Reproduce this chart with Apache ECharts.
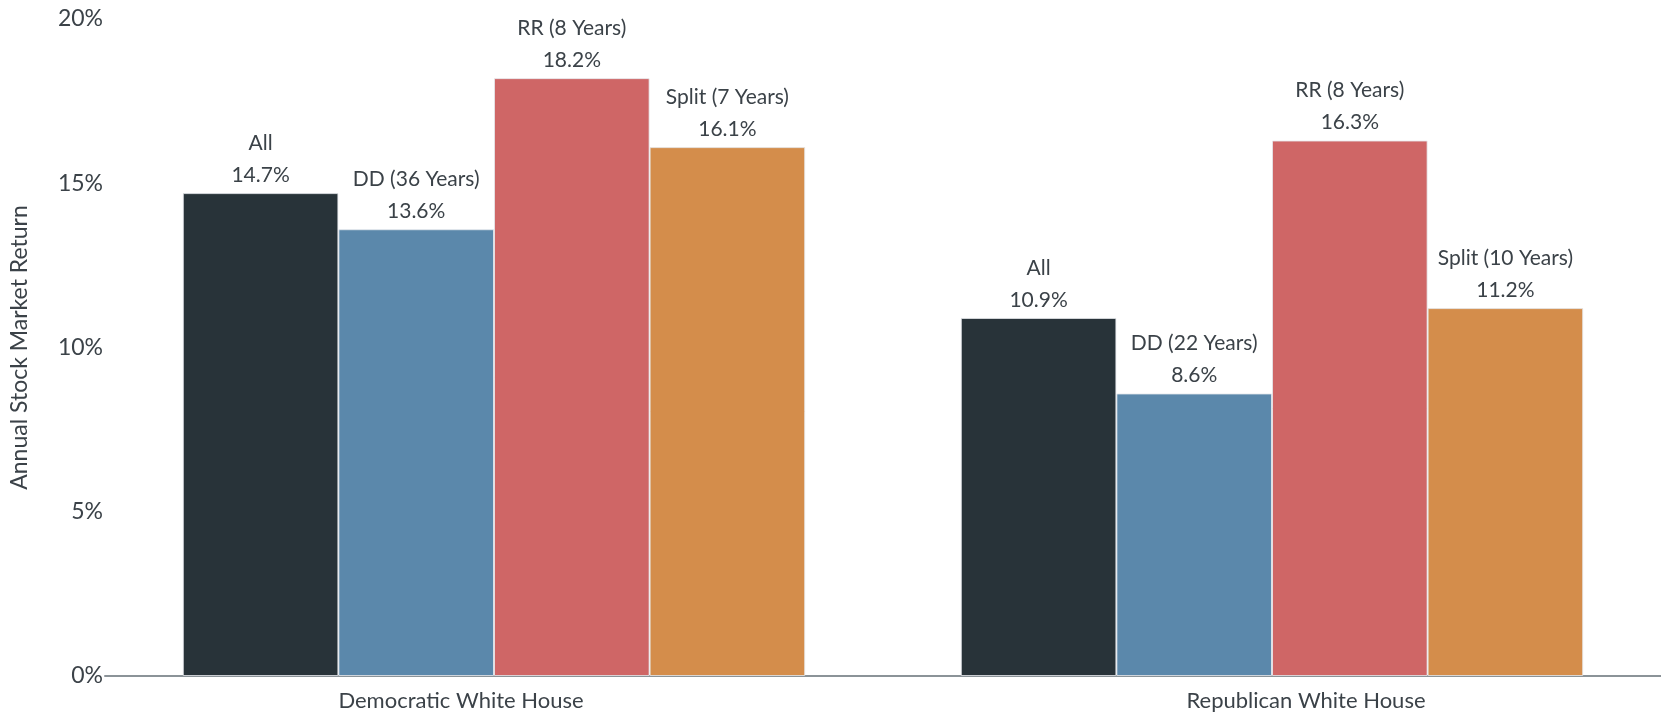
<!DOCTYPE html>
<html>
<head>
<meta charset="utf-8">
<script src="https://cdn.jsdelivr.net/npm/echarts@6/dist/echarts.min.js"></script>
<style>
  html, body { margin: 0; padding: 0; background: #fff; }
  #main { width: 1661px; height: 715px; }
</style>
</head>
<body>
<div id="main"></div>
<script>
// categories and tick labels
var houses = ['Democratic White House', 'Republican White House'];
var yTicks = [0, 5, 10, 15, 20];

// series values (%)
var allVals = [14.7, 10.9];
var ddVals = [13.6, 8.6];
var rrVals = [18.2, 16.3];
var splitVals = [16.1, 11.2];

// label text above each bar
var allNames = ['All', 'All'];
var ddNames = ['DD (36 Years)', 'DD (22 Years)'];
var rrNames = ['RR (8 Years)', 'RR (8 Years)'];
var splitNames = ['Split (7 Years)', 'Split (10 Years)'];

var font = 'Lato';
var textColor = '#3b4248';

function makeSeries(name, vals, names, color) {
  return {
    name: name,
    type: 'bar',
    data: vals,
    barWidth: '20%',
    barGap: '0%',
    itemStyle: {
      color: color,
      borderColor: 'rgba(230,233,236,0.8)',
      borderWidth: 1
    },
    label: {
      show: true,
      position: 'top',
      distance: 2,
      fontFamily: font,
      fontSize: 21,
      lineHeight: 32,
      color: textColor,
      formatter: function (p) {
        return names[p.dataIndex] + '\n' + p.value.toFixed(1) + '%';
      }
    }
  };
}

var chart = echarts.init(document.getElementById('main'));
var option = {
  animation: false,
  backgroundColor: '#fff',
  grid: { left: 105, right: 0, top: 19, bottom: 39 },
  xAxis: {
    type: 'category',
    data: houses,
    axisLine: { lineStyle: { color: '#8b9398', width: 2 } },
    axisTick: { show: false },
    axisLabel: {
      margin: 14,
      formatter: function (v, i) {
        return (i === 0 ? '{l|' : '{r|') + v + '}';
      },
      rich: {
        l: { fontFamily: font, fontSize: 22, color: textColor, padding: [0, 66, 0, 0] },
        r: { fontFamily: font, fontSize: 22, color: textColor, padding: [0, 0, 0, 68] }
      }
    }
  },
  yAxis: {
    type: 'value',
    min: yTicks[0],
    max: yTicks[yTicks.length - 1],
    interval: 5,
    name: 'Annual Stock Market Return',
    nameLocation: 'middle',
    nameGap: 74,
    nameTextStyle: { fontFamily: font, fontSize: 23, color: textColor },
    axisLine: { show: false },
    axisTick: { show: false },
    splitLine: { show: false },
    axisLabel: {
      margin: 2,
      fontFamily: font,
      fontSize: 23,
      color: textColor,
      formatter: '{value}%'
    }
  },
  series: [
    makeSeries('All', allVals, allNames, '#283339'),
    makeSeries('DD', ddVals, ddNames, '#5b88ab'),
    makeSeries('RR', rrVals, rrNames, '#cf6666'),
    makeSeries('Split', splitVals, splitNames, '#d48d4b')
  ]
};
chart.setOption(option);
</script>
</body>
</html>
